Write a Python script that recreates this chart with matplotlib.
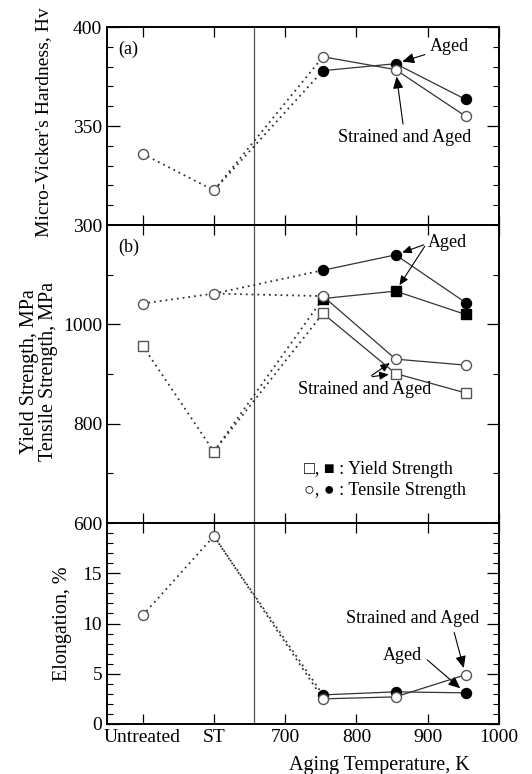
import matplotlib
matplotlib.use("Agg")
import matplotlib.pyplot as plt
from matplotlib.ticker import MultipleLocator, FixedLocator

plt.rcParams['font.family'] = ['Liberation Serif', 'DejaVu Sans']

# Untreated and ST are put on the temperature axis at 500 and 600
base_x = [500, 600]
aging_temp = [753, 855, 953]
x_ticks = [500, 600, 700, 800, 900, 1000]
x_ticklabels = ['Untreated', 'ST', '700', '800', '900', '1000']
st_line = 657

# (a) hardness, Hv
hv_base = [336, 317.5]
hv_aged = [378, 381.5, 363.5]
hv_sa = [385, 378.5, 355]

# (b) tensile / yield strength, MPa
ts_base = [1042, 1062]
ts_aged = [1109, 1140, 1044]
ts_sa = [1057, 930, 918]
ys_base = [957, 744]
ys_aged = [1052, 1067, 1020]
ys_sa = [1022, 901, 862]

# (c) elongation, %
el_base = [10.8, 18.7]
el_aged = [2.9, 3.2, 3.1]
el_sa = [2.5, 2.7, 4.9]

LINE = '#333333'
OPEN_EDGE = '#555555'
DOT = (0, (1, 2.2))
FS_TICK = 14
FS_LAB = 14.5
FS_ANN = 13
ARROW = dict(arrowstyle='-|>,head_length=0.55,head_width=0.24', color='k', lw=0.8, shrinkB=5)


def draw_series(ax, base, aged, sa, marker, ms):
    # dotted paths: untreated -> ST -> 1st aging temp
    ax.plot(base_x + aging_temp[:1], base + sa[:1], ls=DOT, color=LINE, lw=1.3, zorder=2)
    ax.plot(base_x[1:] + aging_temp[:1], base[1:] + aged[:1], ls=DOT, color=LINE, lw=1.3, zorder=2)
    ax.plot(aging_temp, aged, '-', color=LINE, lw=0.9, marker=marker, ms=ms,
            mfc='k', mec='k', zorder=3)
    ax.plot(aging_temp, sa, '-', color=LINE, lw=0.9, marker=marker, ms=ms,
            mfc='white', mec=OPEN_EDGE, mew=1.0, zorder=4)
    ax.plot(base_x, base, ls='none', marker=marker, ms=ms,
            mfc='white', mec=OPEN_EDGE, mew=1.0, zorder=4)


def style_axis(ax, major, minor, ylim):
    ax.set_xlim(450, 1000)
    ax.set_ylim(*ylim)
    ax.xaxis.set_major_locator(FixedLocator(x_ticks))
    ax.yaxis.set_major_locator(FixedLocator(major))
    ax.yaxis.set_minor_locator(MultipleLocator(minor))
    ax.tick_params(which='both', direction='in', top=True, right=True, labelsize=FS_TICK)
    ax.tick_params(which='major', length=9, width=0.9)
    ax.tick_params(which='minor', length=4.5, width=0.8)
    ax.tick_params(axis='x', which='major', length=7)
    for s in ax.spines.values():
        s.set_linewidth(1.4)
    ax.axvline(st_line, color='#555555', lw=0.9, zorder=1)


fig = plt.figure(figsize=(5.32, 7.74), dpi=100)
gs = fig.add_gridspec(3, 1, height_ratios=[198, 298, 201], hspace=0,
                      left=0.201, right=0.938, top=0.965, bottom=0.0646)
ax_a = fig.add_subplot(gs[0])
ax_b = fig.add_subplot(gs[1], sharex=ax_a)
ax_c = fig.add_subplot(gs[2], sharex=ax_a)

# ---- (a)
draw_series(ax_a, hv_base, hv_aged, hv_sa, 'o', 7.2)
style_axis(ax_a, [300, 350, 400], 10, (300, 400))
ax_a.text(0.03, 0.93, '(a)', transform=ax_a.transAxes, fontsize=FS_ANN, va='top')
ax_a.set_ylabel("Micro-Vicker's Hardness, Hv", fontsize=14)
ax_a.yaxis.set_label_coords(-0.14, 0.52)
ax_a.annotate('Aged', xy=(aging_temp[1], hv_aged[1]), xytext=(931, 390),
              ha='center', va='center', fontsize=FS_ANN, arrowprops=ARROW)
ax_a.annotate('Strained and Aged', xy=(aging_temp[1], hv_sa[1]), xytext=(868, 344),
              ha='center', va='center', fontsize=FS_ANN, arrowprops=ARROW)

# ---- (b)
draw_series(ax_b, ts_base, ts_aged, ts_sa, 'o', 7.2)
draw_series(ax_b, ys_base, ys_aged, ys_sa, 's', 7.8)
style_axis(ax_b, [600, 800, 1000], 100, (600, 1200))
ax_b.text(0.03, 0.955, '(b)', transform=ax_b.transAxes, fontsize=FS_ANN, va='top')
ax_b.set_ylabel('Yield Strength, MPa\nTensile Strength, MPa', fontsize=FS_LAB, linespacing=1.0)
ax_b.yaxis.set_label_coords(-0.125, 0.507)
ax_b.text(900, 1164, 'Aged', ha='left', va='center', fontsize=FS_ANN)
for y in (ts_aged[1], ys_aged[1]):
    ax_b.annotate('', xy=(aging_temp[1], y), xytext=(898, 1162), arrowprops=ARROW)
ax_b.text(812, 869, 'Strained and Aged', ha='center', va='center', fontsize=FS_ANN)
for y in (ts_sa[1], ys_sa[1]):
    ax_b.annotate('', xy=(aging_temp[1], y), xytext=(818, 894), arrowprops=ARROW)
ax_b.text(727, 708, '\u25a1, \u25a0 : Yield Strength', ha='left', va='center', fontsize=FS_ANN)
ax_b.text(727, 666, '\u25cb, \u25cf : Tensile Strength', ha='left', va='center', fontsize=FS_ANN)

# ---- (c)
draw_series(ax_c, el_base, el_aged, el_sa, 'o', 7.2)
style_axis(ax_c, [0, 5, 10, 15], 1, (0, 20))
ax_c.set_ylabel('Elongation, %', fontsize=FS_LAB)
ax_c.yaxis.set_label_coords(-0.089, 0.50)
ax_c.annotate('Strained and Aged', xy=(aging_temp[2], el_sa[2]), xytext=(879, 10.5),
              ha='center', va='center', fontsize=FS_ANN,
              arrowprops=dict(ARROW, relpos=(0.8, 0.0)))
ax_c.annotate('Aged', xy=(aging_temp[2], el_aged[2]), xytext=(865, 6.8),
              ha='center', va='center', fontsize=FS_ANN,
              arrowprops=dict(ARROW, relpos=(1.0, 0.5)))
ax_c.set_xticklabels(x_ticklabels)
ax_c.set_xlabel('Aging Temperature, K', fontsize=FS_LAB)
ax_c.xaxis.set_label_coords(0.694, -0.16)

plt.setp(ax_a.get_xticklabels(), visible=False)
plt.setp(ax_b.get_xticklabels(), visible=False)

fig.savefig('out.png', dpi=100)
